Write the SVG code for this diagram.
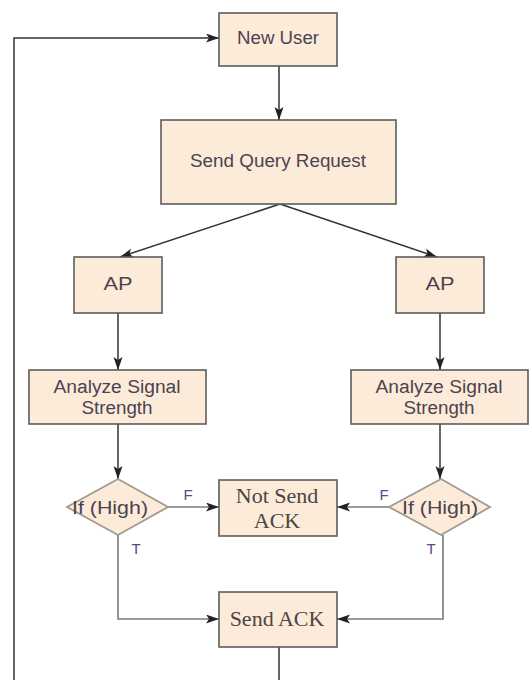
<svg xmlns="http://www.w3.org/2000/svg" width="532" height="680" viewBox="0 0 532 680">
  <defs>
    <marker id="arrow" markerUnits="userSpaceOnUse" markerWidth="14" markerHeight="10" refX="13" refY="4.5" orient="auto">
      <path d="M0,0 L13,4.5 L0,9 L3,4.5 z" fill="#222"/>
    </marker>
    <style>
      .box { fill: #fdebd9; stroke: #5c5c5c; stroke-width: 1.6; }
      .dia { fill: #fdebd9; stroke: #a39a8e; stroke-width: 1.8; }
      .sans { font-family: "Liberation Sans", Arial, sans-serif; font-size: 18px; fill: #4a4450; text-anchor: middle; }
      .serif { font-family: "Liberation Serif", "Times New Roman", serif; font-size: 22px; fill: #4a4646; text-anchor: middle; }
      .lbl { font-family: "Liberation Sans", Arial, sans-serif; font-size: 15px; fill: #5a4a86; text-anchor: middle; }
      .wire { fill: none; stroke: #333; stroke-width: 1.5; }
      .wire2 { fill: none; stroke: #7a7a7a; stroke-width: 1.6; }
    </style>
  </defs>
  <rect width="532" height="680" fill="#ffffff"/>

  <!-- connectors -->
  <g id="connectors">
    <polyline class="wire" points="14,680 14,38 219,38" marker-end="url(#arrow)"/>
    <line class="wire" x1="279" y1="66" x2="279" y2="120" marker-end="url(#arrow)"/>
    <line class="wire" x1="280" y1="204" x2="120" y2="257" marker-end="url(#arrow)"/>
    <line class="wire" x1="280" y1="204" x2="437" y2="257" marker-end="url(#arrow)"/>
    <line class="wire" x1="118" y1="313" x2="118" y2="370" marker-end="url(#arrow)"/>
    <line class="wire" x1="440" y1="313" x2="440" y2="370" marker-end="url(#arrow)"/>
    <line class="wire" x1="118" y1="424" x2="118" y2="479" marker-end="url(#arrow)"/>
    <line class="wire" x1="440" y1="424" x2="440" y2="479" marker-end="url(#arrow)"/>
    <line class="wire2" x1="168" y1="507" x2="219" y2="507" marker-end="url(#arrow)"/>
    <line class="wire2" x1="389" y1="507" x2="337" y2="507" marker-end="url(#arrow)"/>
    <polyline class="wire2" points="118,535 118,619 219,619" marker-end="url(#arrow)"/>
    <polyline class="wire2" points="443,535 443,619 337,619" marker-end="url(#arrow)"/>
    <line class="wire" x1="279" y1="647" x2="279" y2="680"/>
    <text class="lbl" x="188" y="500">F</text>
    <text class="lbl" x="384" y="500">F</text>
    <text class="lbl" x="136" y="554">T</text>
    <text class="lbl" x="431" y="554">T</text>
  </g>

  <g id="new-user">
    <rect class="box" x="219" y="13" width="118" height="53"/>
    <text class="sans" x="278" y="44" textLength="82" lengthAdjust="spacingAndGlyphs">New User</text>
  </g>

  <g id="send-query">
    <rect class="box" x="161" y="120" width="235" height="84"/>
    <text class="sans" x="278" y="167" textLength="176" lengthAdjust="spacingAndGlyphs">Send Query Request</text>
  </g>

  <g id="ap-left">
    <rect class="box" x="74" y="257" width="88" height="56"/>
    <text class="sans" x="118" y="290" textLength="29" lengthAdjust="spacingAndGlyphs">AP</text>
  </g>

  <g id="ap-right">
    <rect class="box" x="396" y="257" width="88" height="56"/>
    <text class="sans" x="440" y="290" textLength="29" lengthAdjust="spacingAndGlyphs">AP</text>
  </g>

  <g id="analyze-left">
    <rect class="box" x="29" y="370" width="177" height="54"/>
    <text class="sans" x="117" y="393" textLength="127" lengthAdjust="spacingAndGlyphs">Analyze Signal</text>
    <text class="sans" x="117" y="414" textLength="71" lengthAdjust="spacingAndGlyphs">Strength</text>
  </g>

  <g id="analyze-right">
    <rect class="box" x="351" y="370" width="177" height="54"/>
    <text class="sans" x="439" y="393" textLength="127" lengthAdjust="spacingAndGlyphs">Analyze Signal</text>
    <text class="sans" x="439" y="414" textLength="71" lengthAdjust="spacingAndGlyphs">Strength</text>
  </g>

  <g id="if-high-left">
    <polygon class="dia" points="118,479 168,507 118,535 67,507"/>
    <text class="sans" x="110" y="514" textLength="76" lengthAdjust="spacingAndGlyphs">If (High)</text>
  </g>

  <g id="if-high-right">
    <polygon class="dia" points="441,479 490,507 441,535 389,507"/>
    <text class="sans" x="440" y="514" textLength="76" lengthAdjust="spacingAndGlyphs">If (High)</text>
  </g>

  <g id="not-send-ack">
    <rect class="box" x="219" y="480" width="118" height="56"/>
    <text class="serif" x="277" y="503">Not Send</text>
    <text class="serif" x="277" y="528">ACK</text>
  </g>

  <g id="send-ack">
    <rect class="box" x="219" y="592" width="118" height="55"/>
    <text class="serif" x="277" y="626">Send ACK</text>
  </g>
</svg>
